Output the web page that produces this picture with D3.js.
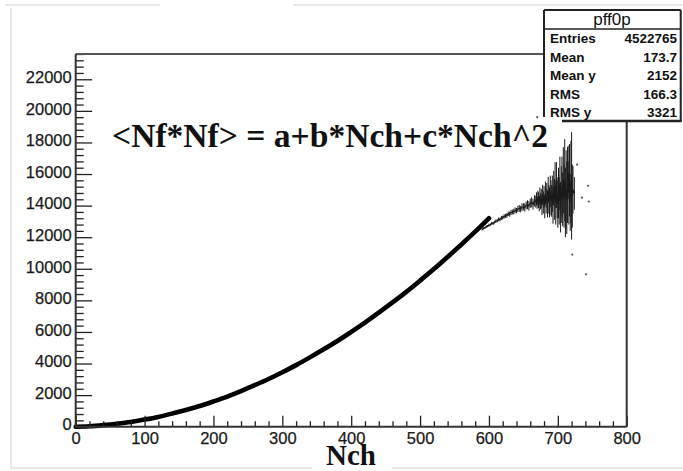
<!DOCTYPE html>
<html><head><meta charset="utf-8">
<script src="https://cdn.jsdelivr.net/npm/d3@7"></script>
<style>body{margin:0;background:#fff}svg{display:block}</style>
</head><body>
<svg id="c" width="683" height="471"></svg>
<script>
// ---- data ----
const fitNch = [0,20,40,60,80,100,120,140,160,180,200,220,240,260,280,300,320,340,360,380,400,420,440,460,480,500,520,540,560,580,600];
const fitNfNf = [0,30,100,190,300,450,620,830,1060,1310,1600,1910,2260,2630,3020,3450,3900,4390,4900,5430,6000,6590,7220,7870,8540,9250,9980,10750,11540,12350,13200];

const profNch = [590,592,594,596,598,600,602,604,606,608,610,612,614,616,618,620,622,624,626,628,630,632,634,636,638,640,642,644,646,648,650,652,654,656,658,660,662,664,666,668,
  669,670,671,672,673,674,675,676,677,678,679,680,681,682,683,684,685,686,687,688,689,690,691,692,693,694,695,696,697,698,699,700,701,702,703,704,705,706,707,708,709,710,711,712,713,714,715,716,717,718,719,720,721,722,724];
const profMean = [12480,12560,12590,12660,12700,12760,12790,12880,12870,12950,13010,13040,13130,13120,13220,13240,13310,13350,13380,13480,13460,13560,13590,13620,13700,13680,13790,13820,13780,13900,13930,13880,14010,14060,13980,14150,14210,14090,14300,14250,
  14420,14180,14500,14350,14120,14600,14280,14450,14050,14700,14200,14550,13950,14800,14300,14650,14100,15000,14400,14200,14900,14500,14300,14750,14050,15100,14400,15300,14200,15300,14500,14100,14800,14300,15400,13900,14700,15200,14400,15600,14600,15600,14200,15000,14500,15300,16100,14800,15600,14200,15500,15250,14600,15000,14770];
const profErr = [60,70,60,80,70,90,80,90,100,90,110,100,120,110,130,120,140,130,150,140,160,170,150,180,190,170,200,220,210,240,230,260,250,280,300,290,320,340,360,380,
  420,380,450,500,480,550,520,600,650,620,700,680,750,720,800,780,850,820,900,950,1000,1100,1000,1150,1200,1100,1300,1450,1400,1450,1300,1500,1600,1500,1700,1600,1800,1900,1700,2100,2000,2600,2200,2500,2300,2400,1700,2000,2300,1800,2600,3400,2000,1500,1030];

const strayNch = [670,721,728,735,741,744,745];
const strayNfNf = [19600,10900,16590,14500,9650,15250,14260];

const xTicks = [0,100,200,300,400,500,600,700,800];
const yTicks = [0,2000,4000,6000,8000,10000,12000,14000,16000,18000,20000,22000];

const statName = "pff0p";
const statLabels = ["Entries","Mean","Mean y","RMS","RMS y"];
const statValues = ["4522765","173.7","2152","166.3","3321"];
const formula = "<Nf*Nf> = a+b*Nch+c*Nch^2";
const xTitle = "Nch";

// ---- layout ----
const svg = d3.select("#c");
const L = 75.7, R = 626.7, T = 54, B = 426.7;
const x = d3.scaleLinear().domain([0,800]).range([L,R]);
const y = d3.scaleLinear().domain([0,23600]).range([B,T]);

svg.append("rect").attr("width",683).attr("height",471).attr("fill","#fff");

// faint screenshot border
const faint = svg.append("g").attr("stroke","#e2e2e2").attr("stroke-width",1.5);
faint.append("line").attr("x1",5).attr("x2",160).attr("y1",5).attr("y2",5);
faint.append("line").attr("x1",293).attr("x2",683).attr("y1",5).attr("y2",5);
faint.append("line").attr("x1",11).attr("x2",11).attr("y1",8).attr("y2",468);
faint.append("line").attr("x1",10).attr("x2",312).attr("y1",468).attr("y2",468);
faint.append("line").attr("x1",392).attr("x2",683).attr("y1",468).attr("y2",468);

// fit curve
svg.append("path")
  .datum(fitNch.map((n,i)=>[n,fitNfNf[i]]))
  .attr("fill","none").attr("stroke","#000").attr("stroke-width",4.6)
  .attr("stroke-linecap","round")
  .attr("d", d3.line().x(d=>x(d[0])).y(d=>y(d[1])).curve(d3.curveMonotoneX));

// profile tail with error bars
const prof = profNch.map((n,i)=>({n, m:profMean[i], e:profErr[i]}));
svg.append("g").selectAll("line").data(prof).join("line")
  .attr("x1",d=>x(d.n)).attr("x2",d=>x(d.n))
  .attr("y1",d=>y(d.m-d.e)).attr("y2",d=>y(d.m+d.e))
  .attr("stroke","#1a1a1a").attr("stroke-width",1);
svg.append("path").datum(prof)
  .attr("fill","none").attr("stroke","#1a1a1a").attr("stroke-width",1.2)
  .attr("d", d3.line().x(d=>x(d.n)).y(d=>y(d.m)));

svg.append("g").selectAll("circle").data(strayNch.map((n,i)=>[n,strayNfNf[i]])).join("circle")
  .attr("cx",d=>x(d[0])).attr("cy",d=>y(d[1])).attr("r",1.1).attr("fill","#555");

// axes
const axX = svg.append("g").attr("transform",`translate(0,${B})`);
axX.call(d3.axisTop(x).tickValues(d3.range(0,801,20)).tickSize(0).tickFormat(""));
axX.select(".domain").remove();
axX.selectAll(".tick line").attr("y2",d=>d%100===0? -11 : -5.5).attr("stroke","#222").attr("stroke-width",1.3);
const axXl = svg.append("g").attr("transform",`translate(0,${B})`)
  .call(d3.axisBottom(x).tickValues(xTicks).tickSize(0).tickPadding(0).tickFormat(d3.format("d")));
axXl.select(".domain").remove();
axXl.selectAll("text").attr("y",17).attr("dy",0).attr("font-family","Liberation Sans, Arial, sans-serif")
  .attr("font-size",16.5).attr("fill","#1a1a1a").attr("stroke","#1a1a1a").attr("stroke-width",0.25);

const axY = svg.append("g").attr("transform",`translate(${L},0)`);
axY.call(d3.axisRight(y).tickValues(d3.range(0,23601,400)).tickSize(0).tickFormat(""));
axY.select(".domain").remove();
axY.selectAll(".tick line").attr("x2",d=>d%2000===0? 16.5 : 8).attr("stroke","#222").attr("stroke-width",1.3);
const axYl = svg.append("g").attr("transform",`translate(${L},0)`)
  .call(d3.axisLeft(y).tickValues(yTicks).tickSize(0).tickPadding(4).tickFormat(d3.format("d")));
axYl.select(".domain").remove();
axYl.selectAll("text").attr("dy","0.32em").attr("y",-2).attr("font-family","Liberation Sans, Arial, sans-serif")
  .attr("font-size",16.5).attr("fill","#1a1a1a").attr("stroke","#1a1a1a").attr("stroke-width",0.25);

// frame
const fr = svg.append("g").attr("fill","none").attr("stroke","#333").attr("stroke-width",2);
fr.append("line").attr("x1",L).attr("x2",544).attr("y1",T).attr("y2",T).attr("stroke","#555");
fr.append("line").attr("x1",L).attr("x2",L).attr("y1",T).attr("y2",B);
fr.append("line").attr("x1",L).attr("x2",R).attr("y1",B).attr("y2",B);
fr.append("line").attr("x1",R).attr("x2",R).attr("y1",121).attr("y2",B);

// formula
svg.append("text").attr("x",112).attr("y",147)
  .attr("font-family","Liberation Serif, Times New Roman, serif").attr("font-weight","bold")
  .attr("font-size",33).attr("fill","#111").attr("textLength",436).attr("lengthAdjust","spacingAndGlyphs")
  .text(formula);

// x title
svg.append("text").attr("x",351).attr("y",465).attr("text-anchor","middle")
  .attr("font-family","Liberation Serif, Times New Roman, serif").attr("font-weight","bold")
  .attr("font-size",29).attr("fill","#111").text(xTitle);

// stat box
const sb = svg.append("g");
sb.append("rect").attr("x",544).attr("y",10).attr("width",136.7).attr("height",111).attr("fill","#fff").attr("stroke","none");
const sbl = sb.append("g").attr("stroke","#222").attr("stroke-width",2);
sbl.append("line").attr("x1",544).attr("x2",680.7).attr("y1",10).attr("y2",10);
sbl.append("line").attr("x1",544).attr("x2",544).attr("y1",10).attr("y2",117);
sbl.append("line").attr("x1",680.7).attr("x2",680.7).attr("y1",10).attr("y2",121);
sbl.append("line").attr("x1",562).attr("x2",681.7).attr("y1",121).attr("y2",121).attr("stroke-width",2.5);
sbl.append("line").attr("x1",544).attr("x2",680.7).attr("y1",29).attr("y2",29).attr("stroke-width",1.5);
sb.append("text").attr("x",612).attr("y",25).attr("text-anchor","middle")
  .attr("font-family","Liberation Sans, Arial, sans-serif").attr("font-size",17).attr("fill","#111").text(statName);
statLabels.forEach((lab,i)=>{
  const yy = 43 + i*18.5;
  sb.append("text").attr("x",550).attr("y",yy).attr("font-family","Liberation Sans, Arial, sans-serif")
    .attr("font-weight","bold").attr("font-size",13.5).attr("fill","#111").text(lab);
  sb.append("text").attr("x",677).attr("y",yy).attr("text-anchor","end").attr("font-family","Liberation Sans, Arial, sans-serif")
    .attr("font-weight","bold").attr("font-size",13.5).attr("fill","#111").text(statValues[i]);
});
</script>
</body></html>
